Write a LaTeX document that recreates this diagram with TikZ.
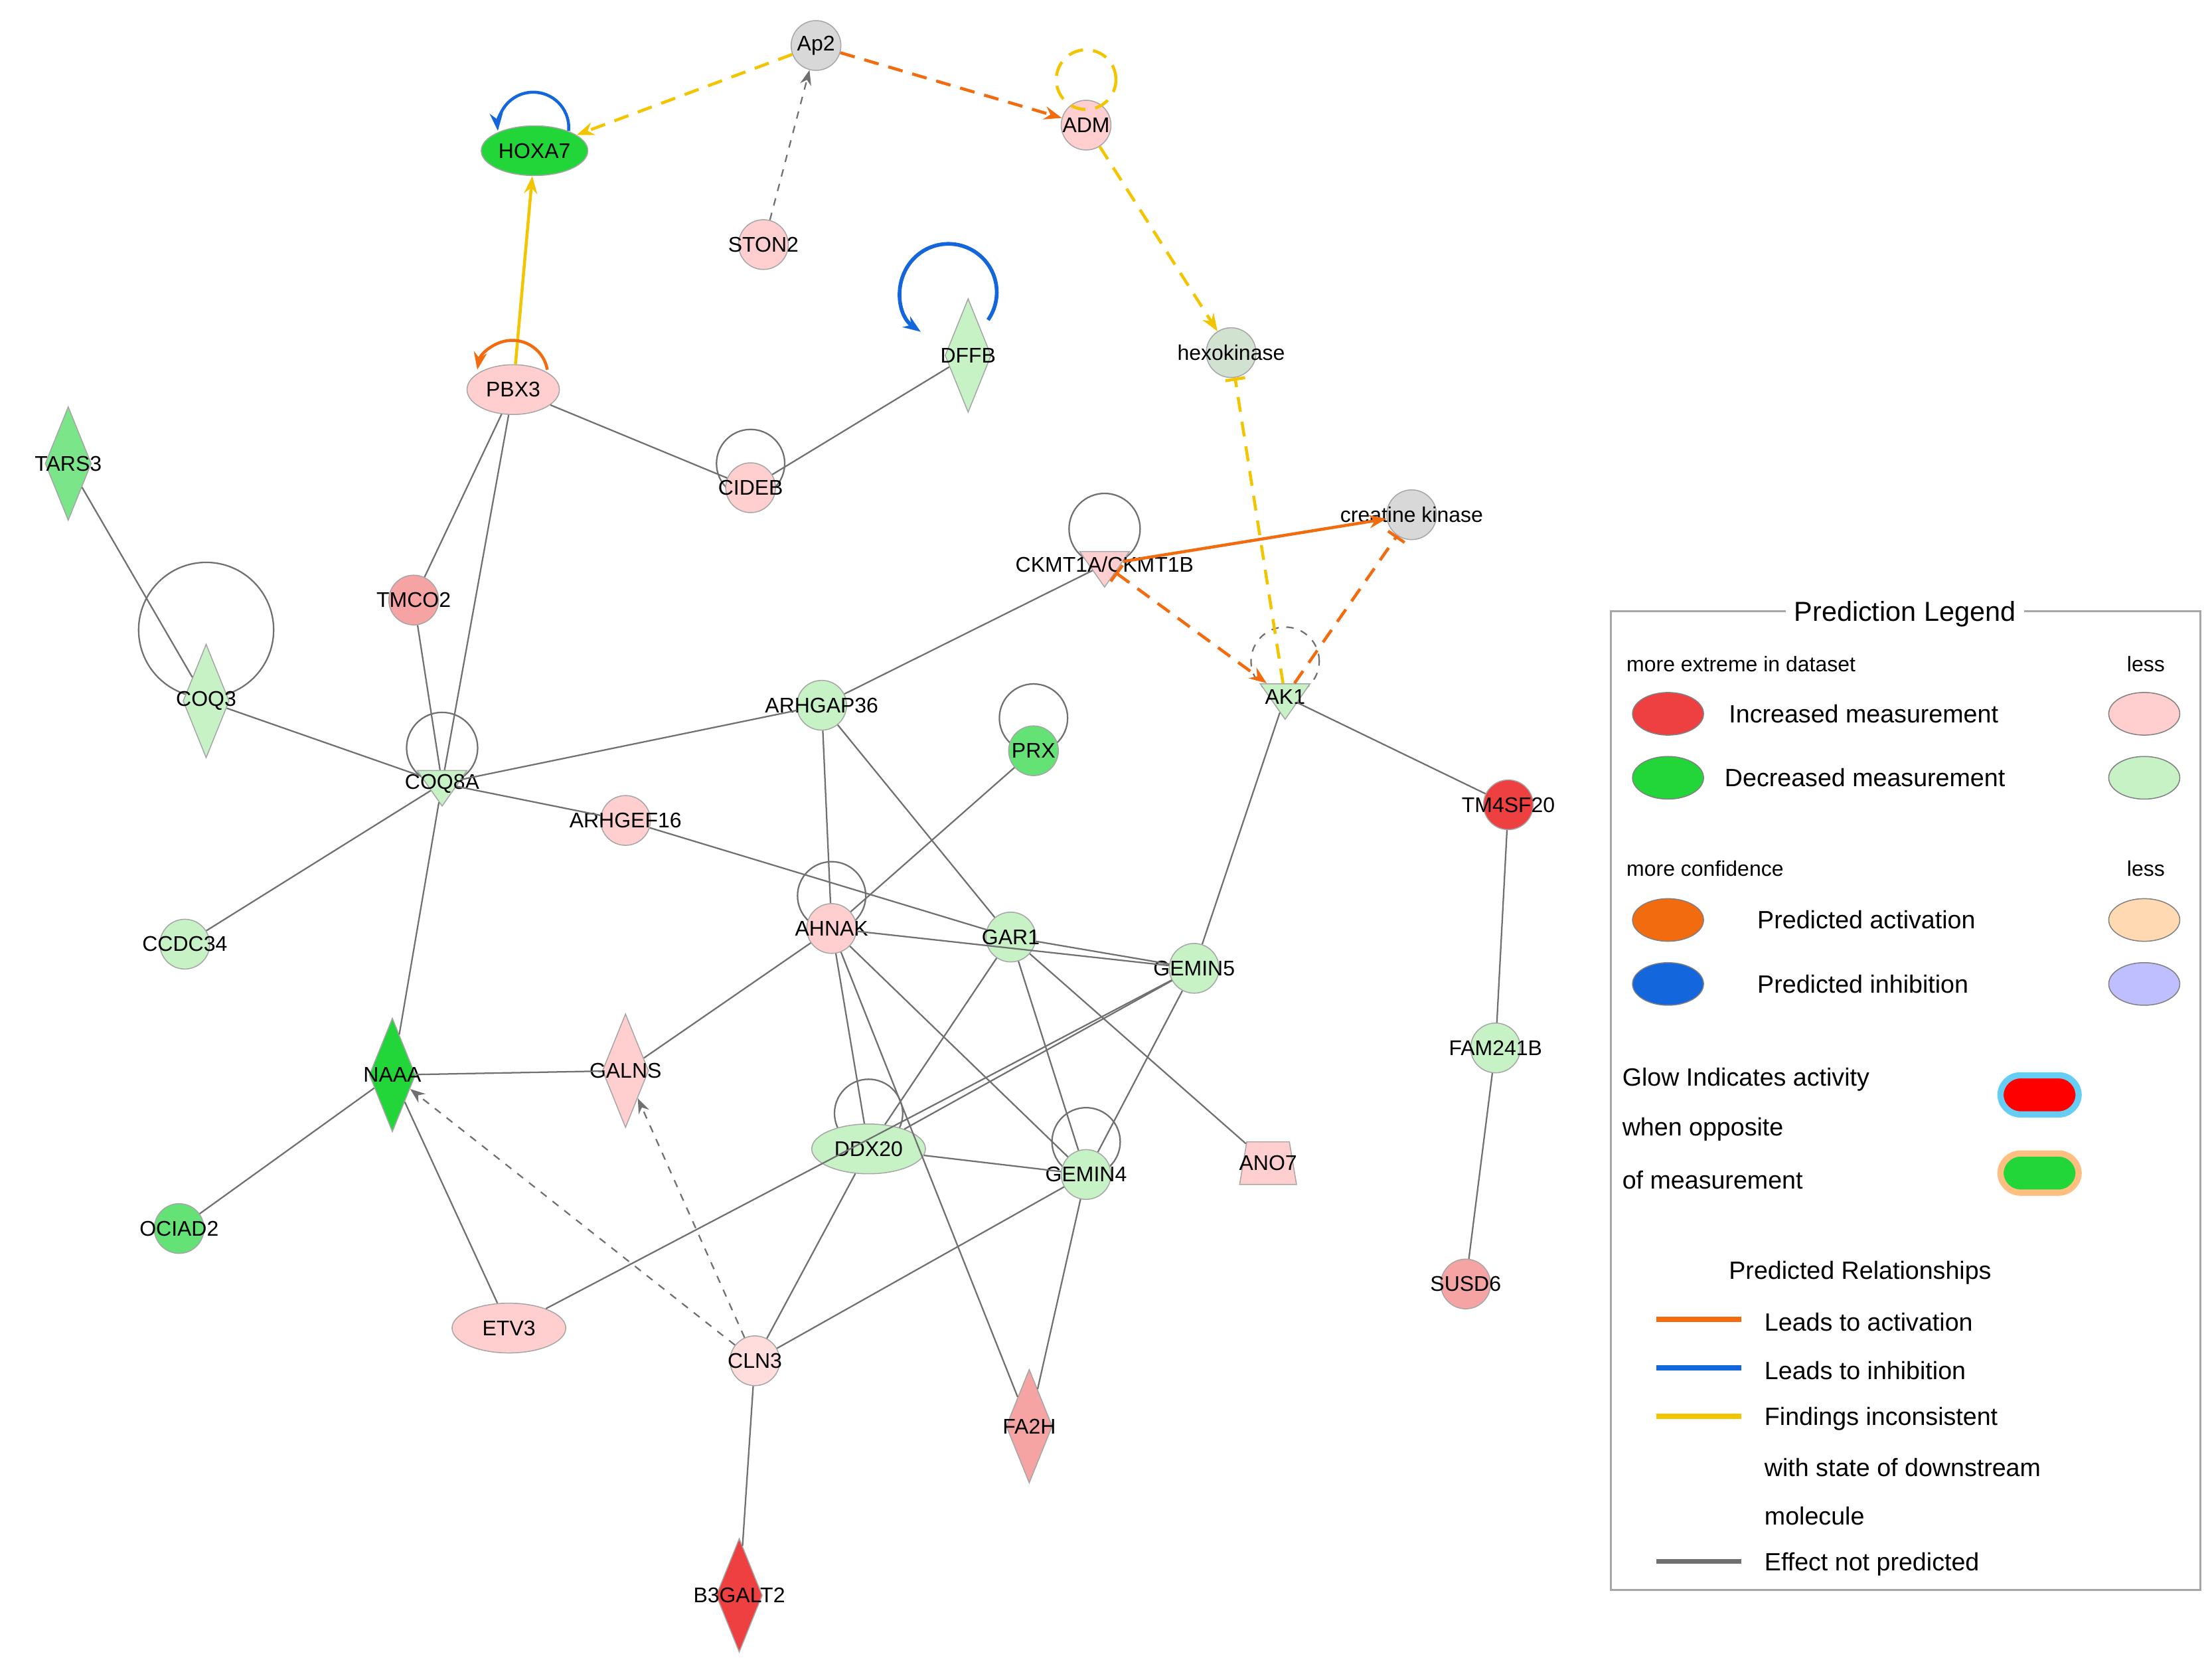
\documentclass[tikz,border=0pt]{standalone}
\usepackage{fontspec}
\setmainfont{Liberation Sans}
\usetikzlibrary{shapes.geometric,arrows.meta,calc}
\definecolor{pk}{HTML}{FFCFCF}
\definecolor{mpk}{HTML}{F5A3A3}
\definecolor{lg}{HTML}{C6F2C6}
\definecolor{gr}{HTML}{22D63A}
\definecolor{rd}{HTML}{EE4040}
\definecolor{gy}{HTML}{D8D8D8}
\definecolor{org}{HTML}{F26B0F}
\definecolor{yel}{HTML}{F2C500}
\definecolor{blu}{HTML}{1466DC}
\definecolor{eg}{HTML}{707070}
\begin{document}
\begin{tikzpicture}[x=0.02cm,y=-0.02cm,
 every node/.style={font=\fontsize{8.5}{9}\selectfont},
 mc/.style={circle,draw=gray!70,minimum size=0.7cm,inner sep=0},
 me/.style={ellipse,draw=gray!70,minimum width=1.3cm,minimum height=0.7cm,inner sep=0},
 md/.style={diamond,draw=gray!70,minimum width=0.65cm,minimum height=1.6cm,inner sep=0},
 mt/.style={isosceles triangle,shape border rotate=-90,isosceles triangle apex angle=70,draw=gray!70,minimum width=0.7cm,minimum height=0.5cm,inner sep=0},
 mz/.style={trapezium,trapezium angle=70,trapezium stretches body,draw=gray!70,minimum width=0.8cm,minimum height=0.6cm,inner sep=1pt},
 ed/.style={draw=eg,line width=0.6pt},
 lp/.style={draw=eg,line width=0.6pt},
 gda/.style={draw=eg,line width=0.6pt,dashed,-{Stealth[length=6pt]}},
 cyd/.style={draw=yel,line width=1.2pt,dash pattern=on 6pt off 4pt},
 cod/.style={draw=org,line width=1.2pt,dash pattern=on 6pt off 4pt},
 lab/.style={inner sep=0}]
\useasboundingbox (0,0) rectangle (1556,1167);
\newcommand\mol[5]{\node[#3,fill=#4] (#1) at (#2) {};\node[lab] at (#1) {#5};}
% loops (behind)
\draw[lp] (528,326) circle (0.48cm);
\draw[lp] (777,372) circle (0.5cm);
\draw[lp] (145,443) circle (0.95cm);
\draw[lp] (311,526) circle (0.5cm);
\draw[lp] (585,630) circle (0.48cm);
\draw[lp] (727,505) circle (0.48cm);
\draw[lp,dashed] (904,465) circle (0.48cm);
\draw[lp] (611,783) circle (0.48cm);
\draw[lp] (764,803) circle (0.48cm);
% nodes
\mol{ap2}{574,32}{mc}{gy}{Ap2}
\mol{hoxa}{376,106}{me,minimum width=1.5cm}{gr}{HOXA7}
\mol{adm}{764,88}{mc}{pk}{ADM}
\mol{ston}{537,172}{mc}{pk}{STON2}
\mol{dffb}{681,250}{md}{lg}{DFFB}
\mol{hexo}{866,248}{mc}{gy!60!lg}{hexokinase}
\mol{pbx}{361,274}{me}{pk}{PBX3}
\mol{tars}{48,326}{md}{gr!60}{TARS3}
\mol{cideb}{528,343}{mc}{pk}{CIDEB}
\mol{ck}{993,362}{mc}{gy}{creatine kinase}
\mol{ckmt}{777,397}{mt}{pk}{CKMT1A/CKMT1B}
\mol{tmco}{291,422}{mc}{mpk}{TMCO2}
\mol{coq3}{145,493}{md}{lg}{COQ3}
\mol{arhgap}{578,496}{mc}{lg}{ARHGAP36}
\mol{prx}{727,528}{mc}{gr!70}{PRX}
\mol{ak}{904,490}{mt}{lg}{AK1}
\mol{coq8}{311,551}{mt}{lg}{COQ8A}
\mol{arhgef}{440,577}{mc}{pk}{ARHGEF16}
\mol{tm4}{1061,566}{mc}{rd}{TM4SF20}
\mol{ccdc}{130,664}{mc}{lg}{CCDC34}
\mol{ahnak}{585,653}{mc}{pk}{AHNAK}
\mol{gar}{711,659}{mc}{lg}{GAR1}
\mol{gem5}{840,681}{mc}{lg}{GEMIN5}
\mol{fam}{1052,737}{mc}{lg}{FAM241B}
\mol{naaa}{276,756}{md}{gr}{NAAA}
\mol{galns}{440,753}{md}{pk}{GALNS}
\mol{ddx}{611,808}{me,minimum width=1.6cm}{lg}{DDX20}
\mol{gem4}{764,826}{mc}{lg}{GEMIN4}
\node[mz,fill=pk] (ano) at (892,818) {\phantom{AN}};\node[lab] at (ano) {ANO7};
\mol{ociad}{126,864}{mc}{gr!70}{OCIAD2}
\mol{susd}{1031,903}{mc}{mpk}{SUSD6}
\mol{etv}{358,934}{me,minimum width=1.6cm}{pk}{ETV3}
\mol{cln}{531,957}{mc}{pk!70}{CLN3}
\mol{fa2h}{724,1003}{md}{mpk}{FA2H}
\mol{b3}{520,1122}{md}{rd}{B3GALT2}
% gray edges
\foreach \a/\b in {pbx/cideb,cideb/dffb,pbx/tmco,pbx/coq8,tmco/coq8,tars/coq3,coq3/coq8,coq8/arhgap,arhgap/ckmt,coq8/ccdc,coq8/naaa,coq8/arhgef,arhgef/gar,arhgap/ahnak,arhgap/gar,prx/ahnak,ahnak/galns,ahnak/ddx,ahnak/gem4,ahnak/fa2h,ahnak/gem5,gar/gem5,gar/ddx,gar/gem4,gar/ano,gem5/ddx,gem5/gem4,gem5/ak,ak/tm4,tm4/fam,fam/susd,ddx/gem4,etv/gem5,ddx/cln,gem4/cln,gem4/fa2h,naaa/galns,naaa/ociad,naaa/etv,cln/b3}
 \draw[ed] (\a) -- (\b);
\draw[gda] (ston) -- (ap2);
\draw[gda] (cln) -- (naaa);
\draw[gda] (cln) -- (galns);
% colored
\draw[cyd,-{Stealth[length=7pt]}] (ap2) -- (hoxa);
\draw[cod,-{Stealth[length=7pt]}] (ap2) -- (adm);
\draw[cyd,-{Stealth[length=7pt]}] (adm) -- (hexo);
\draw[cyd] (764,56) circle (0.42cm);
\draw[cyd,-{Bar[width=8pt]}] (ak) -- (hexo);
\draw[cod,-{Bar[width=8pt]}] (ak) -- (ck);
\draw[cod,{Bar[width=8pt]}-{Stealth[length=7pt]}] (ckmt) -- (ak);
\draw[org,line width=1.2pt,-{Stealth[length=7pt]}] (ckmt) -- (ck);
\draw[yel,line width=1.2pt,-{Stealth[length=7pt]}] (pbx) -- (hoxa);
\draw[org,line width=1.2pt,-{Stealth[length=7pt]}] (385,260) arc (10:170:0.5cm);
\draw[blu,line width=1.2pt,-{Stealth[length=7pt]}] (400,92) arc (-5:185:0.5cm);
\draw[blu,line width=1.5pt,-{Stealth[length=7pt]}] (695,225) arc (-35:235:0.68cm);
% legend
\draw[gray!70,line width=0.8pt] (1133,430) rectangle (1548,1118);
\node[fill=white,font=\fontsize{11}{12}\selectfont] at (1340,432) {Prediction Legend};
\begin{scope}[every node/.style={font=\fontsize{10}{12}\selectfont,anchor=west}]
\node[font=\fontsize{8.5}{9}\selectfont] at (1138,467) {more extreme in dataset};
\node[font=\fontsize{8.5}{9}\selectfont] at (1490,467) {less};
\node[ellipse,fill=rd,draw=gray,minimum width=1cm,minimum height=0.6cm] (l1) at (1148,502) {};
\node at (1210,502) {Increased measurement};
\node[ellipse,fill=pk,draw=gray,minimum width=1cm,minimum height=0.6cm] (l2) at (1483,502) {};
\node[ellipse,fill=gr,draw=gray,minimum width=1cm,minimum height=0.6cm] (l3) at (1148,547) {};
\node at (1207,547) {Decreased measurement};
\node[ellipse,fill=lg,draw=gray,minimum width=1cm,minimum height=0.6cm] (l4) at (1483,547) {};
\node[font=\fontsize{8.5}{9}\selectfont] at (1138,611) {more confidence};
\node[font=\fontsize{8.5}{9}\selectfont] at (1490,611) {less};
\node[ellipse,fill=org,draw=gray,minimum width=1cm,minimum height=0.6cm] (l5) at (1148,647) {};
\node at (1230,647) {Predicted activation};
\node[ellipse,fill=orange!30,draw=gray,minimum width=1cm,minimum height=0.6cm] (l6) at (1483,647) {};
\node[ellipse,fill=blu,draw=gray,minimum width=1cm,minimum height=0.6cm] (l7) at (1148,692) {};
\node at (1230,692) {Predicted inhibition};
\node[ellipse,fill=blue!25,draw=gray,minimum width=1cm,minimum height=0.6cm] (l8) at (1483,692) {};
\node at (1135,759) {Glow Indicates activity};
\node at (1135,794) {when opposite};
\node at (1135,830) {of measurement};
\node[rounded corners=8pt,fill=red,draw=cyan!60,line width=2.5pt,minimum width=1.1cm,minimum height=0.55cm] (l9) at (1405,770) {};
\node[rounded corners=8pt,fill=gr,draw=orange!50,line width=2.5pt,minimum width=1.1cm,minimum height=0.55cm] (l10) at (1405,825) {};
\node at (1210,895) {Predicted Relationships};
\coordinate (r1a) at (1165,928); \coordinate (r1b) at (1225,928);
\draw[org,line width=2pt] (r1a) -- (r1b);
\node at (1235,930) {Leads to activation};
\coordinate (r2a) at (1165,962); \coordinate (r2b) at (1225,962);
\draw[blu,line width=2pt] (r2a) -- (r2b);
\node at (1235,964) {Leads to inhibition};
\coordinate (r3a) at (1165,996); \coordinate (r3b) at (1225,996);
\draw[yel,line width=2pt] (r3a) -- (r3b);
\node at (1235,998) {Findings inconsistent};
\node at (1235,1032) {with state of downstream};
\node at (1235,1066) {molecule};
\coordinate (r4a) at (1165,1098); \coordinate (r4b) at (1225,1098);
\draw[eg,line width=2pt] (r4a) -- (r4b);
\node at (1235,1100) {Effect not predicted};
\end{scope}
\end{tikzpicture}
\end{document}
